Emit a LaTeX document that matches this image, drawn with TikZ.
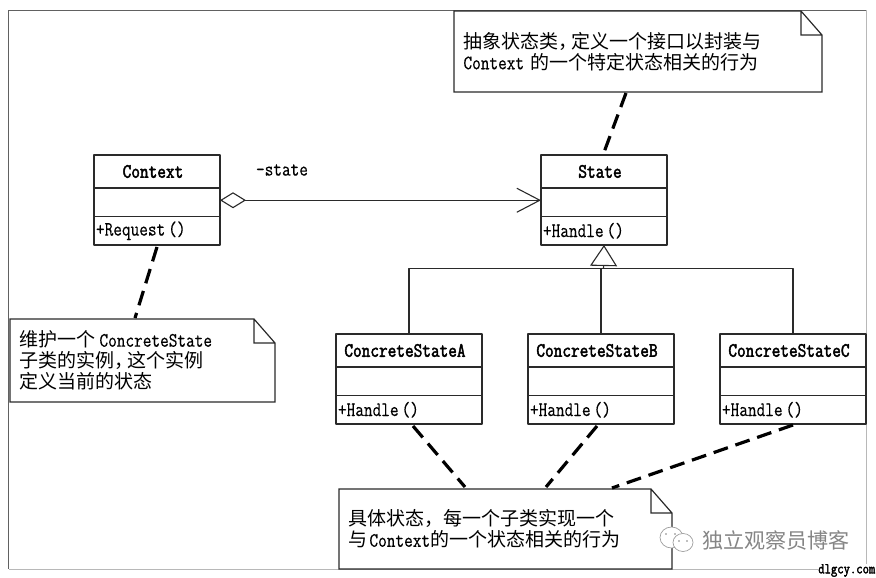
\documentclass[tikz,border=0pt]{standalone}
\usepackage{fontspec}
\usetikzlibrary{arrows.meta,calc}
\setmainfont{Latin Modern Mono}[FakeStretch=0.82,FakeBold=0.4]
\newfontfamily\cjk{Noto Sans CJK SC}[Scale=0.927]
\newfontfamily\boldmono{Latin Modern Mono}[FakeStretch=0.82,FakeBold=2.2]
\definecolor{inkline}{HTML}{2A2A2A}
\tikzset{
	classpart/.style={draw=inkline,line width=1.2pt,anchor=north west,outer sep=0pt,inner sep=0pt},
	notebox/.style={anchor=north west,outer sep=0pt,inner xsep=9.5pt,inner ysep=0pt,align=left,text=black},
	notepen/.style={draw=inkline,line width=1.2pt,line join=miter},
	notelink/.style={draw=black,line width=3.2pt,dash pattern=on 15pt off 8pt},
	linkpen/.style={draw=inkline,line width=1.1pt},
}
\begin{document}
\begin{tikzpicture}[x=1pt,y=-1pt,font=\fontsize{20.5}{21}\selectfont,line join=round]
	\useasboundingbox (0,0) rectangle (876,578);
	\coordinate (frameNW) at (8.5,10.5);
	\coordinate (frameSE) at (866.7,569);
	\draw[draw=black!62,line width=1pt] (frameNW -| frameSE) -- (frameNW) -- (frameNW |- frameSE);
	\draw[draw=black!28,line width=1pt] (frameNW -| frameSE) -- (frameSE) -- (frameNW |- frameSE);
	% classes
	\foreach \name/\x/\y/\w/\opname in {Context/94/155/126/+Request\hspace{3pt}(),State/541/155/126/+Handle\hspace{3pt}(),ConcreteStateA/336/334/146/+Handle\hspace{3pt}(),ConcreteStateB/528/334/146/+Handle\hspace{3pt}(),ConcreteStateC/720/334/146/+Handle\hspace{3pt}()}{
		\node[classpart,minimum width=\w,minimum height=33] (\name-title) at (\x,\y) {\boldmono\name\hspace*{8pt}};
		\node[classpart,minimum width=\w,minimum height=28.5] (\name-attr) at (\name-title.south west) {};
		\node[classpart,minimum width=\w,minimum height=28.5,text width=\w-4,align=left] (\name-op) at (\name-attr.south west) {\opname};
	}
	% associations
	\draw[linkpen,{Diamond[open,length=26pt,width=16pt]}-{Straight Barb[length=23pt,width=24pt]}] ($(Context-attr.east)+(0,-2)$) -- ($(State-attr.west)+(0,-2)$);
	\node[inner sep=0pt] (statelabel) at (282,170) {-state};
	\coordinate (hub) at (603.5,268.7);
	\draw[linkpen,{Triangle[open,fill=white,length=21pt,width=27pt]}-] (State-op.south) -- (hub);
	\draw[linkpen] (ConcreteStateA-title.north) |- (hub);
	\draw[linkpen] (ConcreteStateC-title.north) |- (hub);
	\draw[linkpen] (ConcreteStateB-title.north) -- (ConcreteStateB-title.north |- hub);
	% notes
	\node[notebox,minimum width=368,minimum height=81,text width=349] (topnote) at (454,11) {{\cjk 抽象状态类，}\hspace{-6pt}{\cjk 定义一个接口以封装与}\\Context {\cjk 的一个特定状态相关的行为}};
	\node[notebox,minimum width=265,minimum height=83,text width=246] (leftnote) at (10,319) {{\cjk 维护一个}\hspace{4pt}ConcreteState\\{\cjk 子类的实例，}\hspace{-6pt}{\cjk 这个实例}\\{\cjk 定义当前的状态}};
	\node[notebox,minimum width=333,minimum height=80,text width=314] (bottomnote) at (339,489) {{\cjk 具体状态，每一个子类实现一个}\\{\cjk 与}\hspace{2pt}Context{\cjk 的一个状态相关的行为}};
	\foreach \n in {topnote,leftnote,bottomnote}{
		\draw[notepen] (\n.north west) -- ($(\n.north east)+(-21,0)$) -- ($(\n.north east)+(0,24)$) -- (\n.south east) -- (\n.south west) -- cycle ($(\n.north east)+(-21,0)$) |- ($(\n.north east)+(0,24)$);
	}
	\draw[notelink] ($(topnote.south west)+(172,1)$) -- ($(State-title.north west)+(62,0)$);
	\draw[notelink] ($(Context-op.south west)+(63,2)$) -- ($(leftnote.north west)+(125,-1)$);
	\draw[notelink] ($(ConcreteStateA-op.south west)+(77,2)$) -- ($(bottomnote.north west)+(126,-2)$);
	\draw[notelink] ($(ConcreteStateB-op.south west)+(69,2)$) -- ($(bottomnote.north west)+(207,-2)$);
	\draw[notelink] ($(ConcreteStateC-op.south west)+(73,1)$) -- ($(bottomnote.north west)+(273,-1)$);
	% watermark
	\draw[draw=black!38,line width=.7pt,fill=white] (671.5,537.5) ellipse (11.5 and 10.5);
	\draw[draw=black!38,line width=.7pt,fill=white] (683,542.5) ellipse (10 and 9);
	\fill[black!50] (666,534) circle (.8) (675,534) circle (.8) (679,541) circle (.8) (687,541) circle (.8);
	\node[inner sep=0pt,text=black!48,anchor=west] (bloglabel) at (702,540) {\cjk\fontsize{22.7}{23}\selectfont 独立观察员博客};
	\node[inner sep=0pt,anchor=east,fill=white] (sitelabel) at (875.5,570.5) {\boldmono\fontsize{15}{15}\selectfont dlgcy.com};
\end{tikzpicture}
\end{document}
